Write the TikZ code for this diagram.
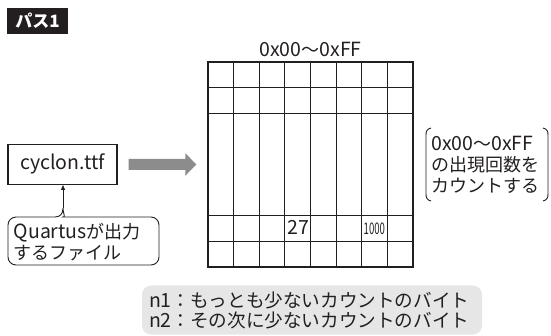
\documentclass[tikz,border=0pt]{standalone}
\usepackage{fontspec}
\setmainfont{Noto Sans CJK JP}
\usetikzlibrary{arrows.meta}
\definecolor{ink}{HTML}{231F20}
\definecolor{arrowgray}{HTML}{8C8C8C}
\definecolor{notegray}{HTML}{E6E6E6}
\newcommand\latn[1]{{\fontsize{19.5}{21}\selectfont #1}}
\begin{document}
\begin{tikzpicture}[x=1pt,y=-1pt,
  txt/.style={font=\fontsize{18}{21}\selectfont, text=ink, inner sep=0pt},
  gridline/.style={line width=1.1pt, draw=ink},
  boxline/.style={line width=1.4pt, draw=ink},
  thinline/.style={line width=0.9pt, draw=ink}]
\useasboundingbox (0,0) rectangle (551,336);
% title tag
\node[fill=ink, text=white, font=\fontsize{17}{20}\selectfont\bfseries,
      minimum width=61pt, minimum height=26pt, inner sep=0pt] (title) at (37.5,21) {パス1};
% grid
\node[boxline, minimum width=205pt, minimum height=205pt, inner sep=0pt] (grid) at (310.5,164.5) {};
\foreach \i in {1,...,7} \draw[gridline] ({208+25.625*\i},62) -- ({208+25.625*\i},267);
\foreach \y in {87.7,113.3,215.7,241.3} \draw[gridline] (208,\y) -- (413,\y);
\node[txt, anchor=base] (range) at (310.5,56.5) {\latn{0x00}～\latn{0xFF}};
\node[txt, anchor=base west] (v27) at (287.5,235) {\latn{27}};
\node[anchor=base west, inner sep=0pt, text=ink, font=\fontsize{16}{16}\selectfont] (v1000) at (363.5,235) {\scalebox{0.6}[1]{1000}};
% source file
\node[boxline, txt, minimum width=109pt, minimum height=40pt] (cyclon) at (62.5,164.3) {\latn{cyclon.ttf}};
\draw[arrowgray, line width=11pt, -{Triangle[length=11pt, width=22pt]}]
  ([xshift=11pt]cyclon.east) -- ([xshift=-11pt]grid.west);
% callout
\coordinate (apex) at (63,208);
\draw[ink, line width=0.8pt, -{Triangle[length=5pt, width=4pt]}] (apex) -- (apex |- cyclon.south);
\draw[thinline] (apex) .. controls (63,214) and (60,217) .. (55,217)
  [rounded corners=8pt] -- (8,217) -- (8,265) -- (159,265) -- (159,217) -- (71,217)
  [sharp corners] .. controls (66,217) and (63,214) .. (apex);
\node[txt, align=left, anchor=west] (callout) at (13.5,242.5) {\latn{Quartus}が出力\\するファイル};
% bracket note
\node[txt, align=left, anchor=west] (count) at (431,165) {\latn{0x00}～\latn{0xFF}\\の出現回数を\\カウントする};
\draw[thinline] (431,128) .. controls (427,129) and (426,131) .. (426,135) -- (426,194)
  .. controls (426,198) and (427,200) .. (431,201);
\draw[thinline] (543,128) .. controls (547,129) and (548,131) .. (548,135) -- (548,194)
  .. controls (548,198) and (547,200) .. (543,201);
% bottom note
\node[fill=notegray, rounded corners=9pt, text=ink, font=\fontsize{18.6}{20}\selectfont,
      align=left, inner xsep=7pt, inner ysep=0pt, text width=326pt,
      minimum height=49pt] (note) at (312,310)
  {\latn{n1}：もっとも少ないカウントのバイト\\\latn{n2}：その次に少ないカウントのバイト};
\end{tikzpicture}
\end{document}
